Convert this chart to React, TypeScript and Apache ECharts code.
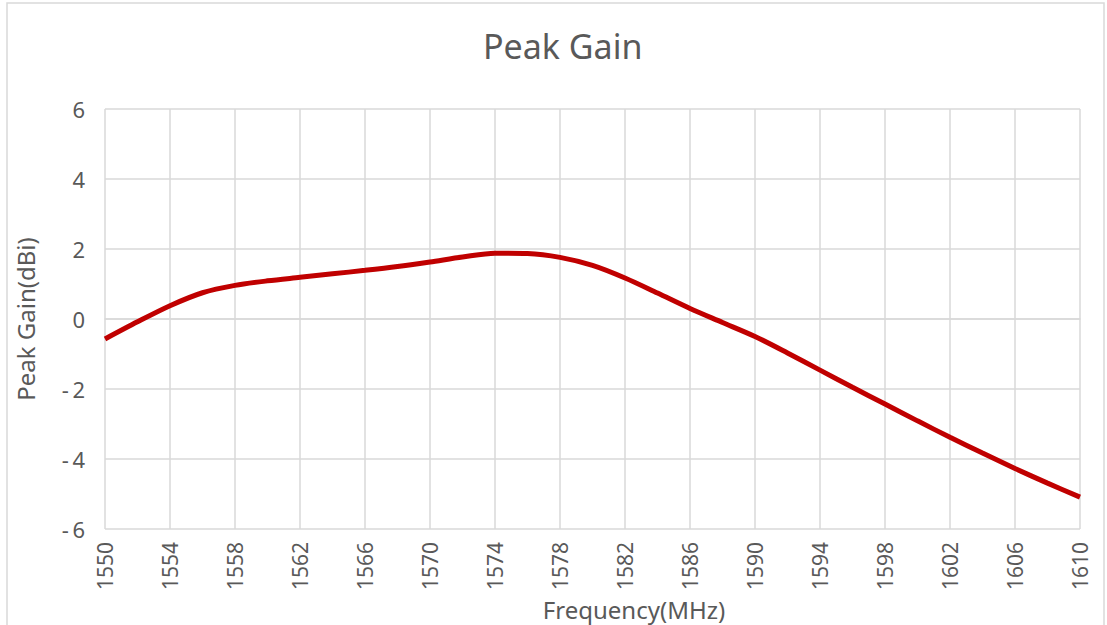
import React, { useEffect, useRef } from "react";
import * as echarts from "echarts";

const frequencies = [
  1550, 1552, 1554, 1556, 1558, 1560, 1562, 1564, 1566, 1568, 1570, 1572, 1574, 1576, 1578, 1580,
  1582, 1584, 1586, 1588, 1590, 1592, 1594, 1596, 1598, 1600, 1602, 1604, 1606, 1608, 1610,
];
const peakGain = [
  -0.57, -0.08, 0.38, 0.75, 0.96, 1.09, 1.19, 1.29, 1.39, 1.5, 1.63, 1.77, 1.88, 1.87, 1.76, 1.53,
  1.17, 0.74, 0.3, -0.1, -0.5, -0.97, -1.46, -1.95, -2.43, -2.91, -3.38, -3.83, -4.27, -4.69, -5.09,
];

const FONT = "Noto Sans";
const TEXT = "#595959";
const GRID = "#d9d9d9";

export default function App() {
  const ref = useRef<HTMLDivElement>(null);
  useEffect(() => {
    if (!ref.current) return;
    const chart = echarts.init(ref.current, undefined, { renderer: "svg" });
    chart.setOption({
      animation: false,
      backgroundColor: "#ffffff",
      title: {
        text: "Peak Gain",
        left: 478,
        top: 24,
        textStyle: { fontFamily: FONT, fontSize: 34, fontWeight: "normal", color: TEXT },
      },
      graphic: [
        {
          type: "rect",
          shape: { x: 7, y: 3, width: 1097, height: 640 },
          style: { fill: "none", stroke: GRID, lineWidth: 1.5 },
          silent: true,
        },
      ],
      grid: {
        left: 105,
        right: 27,
        top: 109,
        bottom: 96,
        containLabel: false,
        outerBoundsMode: "none",
      },
      xAxis: {
        type: "value",
        min: 1550,
        max: 1610,
        interval: 4,
        name: "Frequency(MHz)",
        nameLocation: "middle",
        nameGap: 59,
        nameTextStyle: { fontFamily: FONT, fontSize: 24, color: TEXT, padding: [0, 0, 0, 83] },
        axisLine: { show: true, lineStyle: { color: GRID, width: 1.5 } },
        axisTick: { show: false },
        axisLabel: {
          rotate: 90,
          margin: 13,
          fontFamily: FONT,
          fontSize: 21,
          color: TEXT,
          formatter: (v: number) => String(v),
        },
        splitLine: { show: true, lineStyle: { color: GRID, width: 1.5 } },
      },
      yAxis: {
        type: "value",
        min: -6,
        max: 6,
        interval: 2,
        name: "Peak Gain(dBi)",
        nameLocation: "middle",
        nameGap: 68,
        nameTextStyle: { fontFamily: FONT, fontSize: 24, color: TEXT },
        axisLine: { show: false },
        axisTick: { show: false },
        axisLabel: {
          margin: 20,
          fontFamily: FONT,
          fontSize: 22,
          color: TEXT,
          formatter: (v: number) => (v < 0 ? "-" + "\u2009" + Math.abs(v) : String(v)),
        },
        splitLine: { show: true, lineStyle: { color: GRID, width: 1.5 } },
      },
      series: [
        {
          type: "line",
          data: frequencies.map((f, i) => [f, peakGain[i]]),
          smooth: 0.3,
          symbol: "none",
          lineStyle: { color: "#c00000", width: 5 },
        },
      ],
    });
    return () => chart.dispose();
  }, []);
  return (
    <div
      ref={ref}
      style={{ position: "absolute", left: 0, top: 0, width: 1107, height: 625 }}
    />
  );
}
